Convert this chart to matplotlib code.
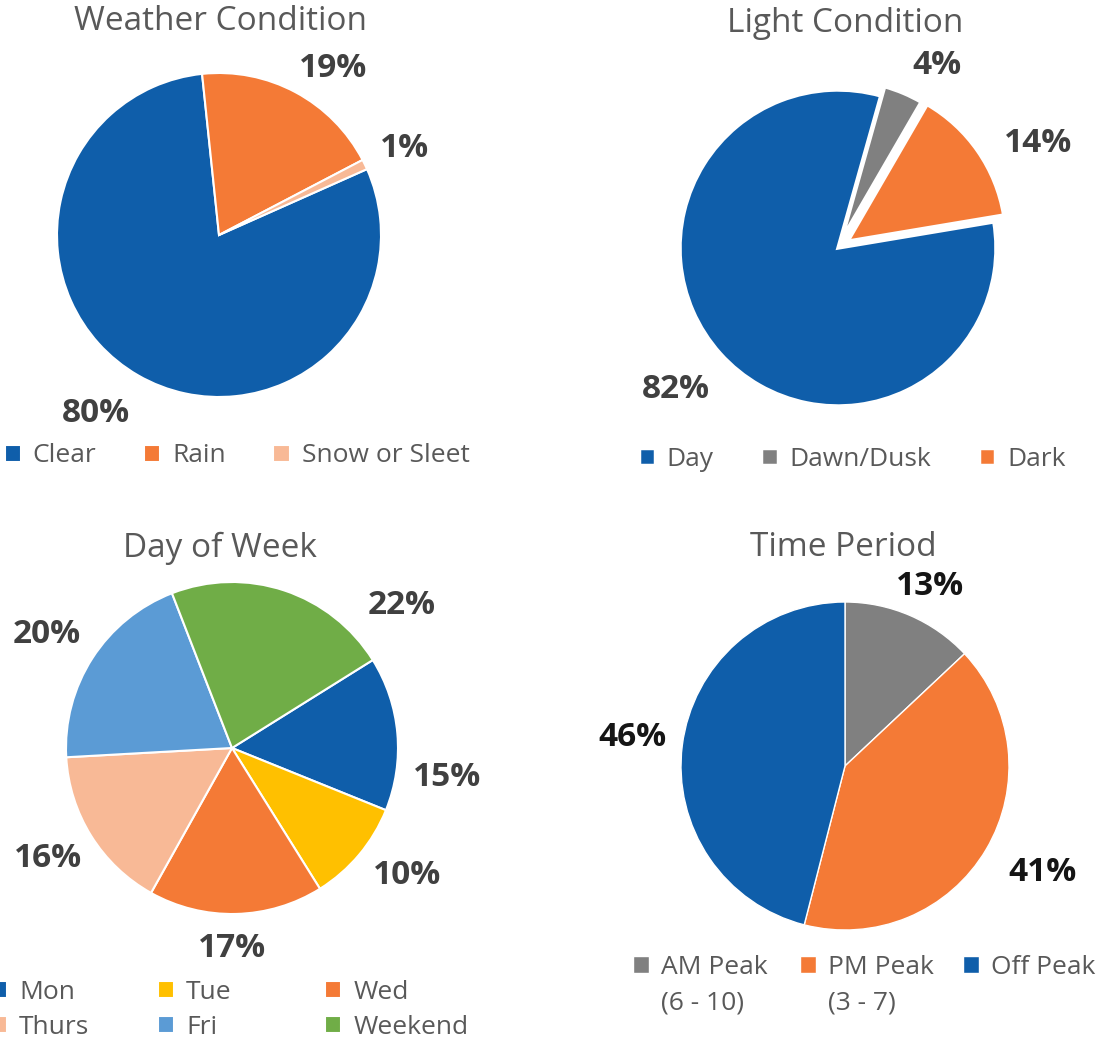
import matplotlib
matplotlib.use('Agg')
import matplotlib.pyplot as plt
from matplotlib.patches import Rectangle

plt.rcParams['font.family'] = ['Open Sans', 'DejaVu Sans']

# ---- data ----
weather_labels = ['Clear', 'Rain', 'Snow or Sleet']
weather_values = [80, 19, 1]

light_labels = ['Day', 'Dawn/Dusk', 'Dark']
light_values = [82, 4, 14]

day_labels = ['Mon', 'Tue', 'Wed', 'Thurs', 'Fri', 'Weekend']
day_values = [15, 10, 17, 16, 20, 22]

time_labels = ['AM Peak', 'PM Peak', 'Off Peak']
time_sublabels = ['(6 - 10)', '(3 - 7)', '']
time_values = [13, 41, 46]

# ---- colours ----
BLUE = '#0F5EAA'
ORANGE = '#F47A36'
PEACH = '#F8B996'
GRAY = '#808080'
YELLOW = '#FFC000'
LBLUE = '#5B9BD5'
GREEN = '#70AD47'
TITLE_C = '#595959'
LABEL_C = '#404040'

W, H = 1102, 1042
fig = plt.figure(figsize=(W / 100, H / 100), dpi=100)
ax = fig.add_axes([0, 0, 1, 1])


def draw_pie(values, colors, cx, cy, r, start, explode=None, dist=1.3,
             edge_lw=1.5, pct_color=LABEL_C, nudges=None):
    """cx, cy in pixels from top-left; nudges shift the % labels (px)."""
    wedges, _, pcts = ax.pie(
        values, colors=colors, startangle=start, counterclock=False,
        center=(cx, H - cy), radius=r, explode=explode, frame=True,
        autopct=lambda p: f'{p:.0f}%', pctdistance=dist,
        wedgeprops=dict(edgecolor='white', linewidth=edge_lw),
        textprops=dict(fontsize=24, fontweight='bold', color=pct_color))
    if nudges:
        for t, (dx, dy) in zip(pcts, nudges):
            x, y = t.get_position()
            t.set_position((x + dx, y - dy))
    return wedges


def title(text, x, y):
    ax.text(x, H - y, text, ha='center', va='center', fontsize=24,
            color=TITLE_C)


LEG = dict(frameon=False, fontsize=19, labelcolor=TITLE_C,
           handlelength=0.62, handleheight=0.62, handletextpad=0.45,
           labelspacing=0.38, borderpad=0, borderaxespad=0)


def legend(handles, labels, x, y, ncol=3, spacing=1.8):
    fig.legend(handles, labels, loc='center', ncol=ncol,
               bbox_to_anchor=(x / W, 1 - y / H), columnspacing=spacing,
               **LEG)


def legend_cols(columns, xs, y):
    """one small legend per column, left edge at the given x (px)."""
    for (hs, ls), x in zip(columns, xs):
        fig.legend(hs, ls, loc='upper left',
                   bbox_to_anchor=(x / W, 1 - y / H), **LEG)


# Weather Condition
title('Weather Condition', 221, 22)
w1 = draw_pie(weather_values, [BLUE, ORANGE, PEACH], 219, 235, 162,
              start=24, dist=1.29,
              nudges=[(-19, -2), (15, 18), (-3, 4)])
legend(w1, weather_labels, 237, 456)

# Light Condition
title('Light Condition', 845, 24)
w2 = draw_pie(light_values, [BLUE, GRAY, ORANGE], 838, 248, 158,
              start=9.5, explode=[0, 10, 12], dist=1.33, edge_lw=2.5,
              nudges=[(-6, 1), (13, 20), (17, 22)])
legend(w2, light_labels, 852, 459)

# Day of Week
title('Day of Week', 220, 548)
w3 = draw_pie(day_values, [BLUE, YELLOW, ORANGE, PEACH, LBLUE, GREEN],
              232, 748, 166, start=32, dist=1.28,
              nudges=[(3, 48), (12, -9), (-5, -12), (-4, -2), (-7, 2),
                      (103, 59)])
legend_cols([([w3[0], w3[3]], [day_labels[0], day_labels[3]]),
             ([w3[1], w3[4]], [day_labels[1], day_labels[4]]),
             ([w3[2], w3[5]], [day_labels[2], day_labels[5]])],
            [-9, 158, 325], 980)

# Time Period
title('Time Period', 843, 547)
w4 = draw_pie(time_values, [GRAY, ORANGE, BLUE], 845, 766, 164,
              start=90, dist=1.28, edge_lw=1.0, pct_color='#151515',
              nudges=[(2, 13), (17, 0), (-4, -2)])
blank = Rectangle((0, 0), 1, 1, visible=False)
legend_cols([([wd, blank], [name, sub])
             for wd, name, sub in zip(w4, time_labels, time_sublabels)],
            [633, 800, 963], 955)

ax.set_xlim(0, W)
ax.set_ylim(0, H)
ax.set_aspect('equal')
ax.axis('off')

fig.savefig('out.png', dpi=100)
